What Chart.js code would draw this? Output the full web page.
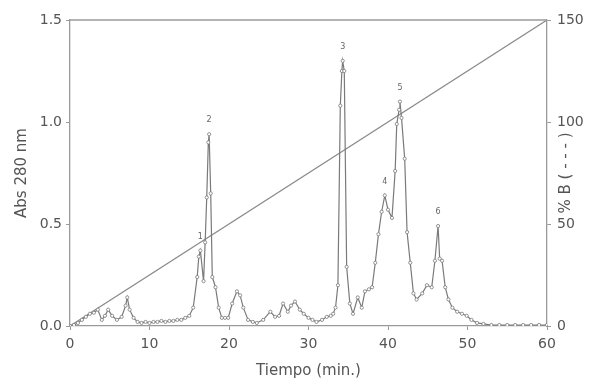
<!DOCTYPE html>
<html>
<head>
<meta charset="utf-8">
<script src="https://cdn.jsdelivr.net/npm/chart.js@4.4.0/dist/chart.umd.min.js"></script>
<style>
  html, body { margin: 0; padding: 0; background: #fff; }
  #wrap { width: 590px; height: 383px; }
</style>
</head>
<body>
<div id="wrap"><canvas id="grafico"></canvas></div>
<script>
const tiempo = [
  0, 0.5, 1, 1.5, 2, 2.5, 3, 3.5, 4, 4.4, 4.8, 5.3, 5.9, 6.5, 7, 7.2, 7.5, 8, 8.5, 9,
  9.5, 10, 10.5, 11, 11.5, 12, 12.5, 13, 13.5, 14, 14.5, 15, 15.5, 16, 16.2, 16.4, 16.8, 17, 17.2, 17.4,
  17.5, 17.7, 17.9, 18.3, 18.7, 19.1, 19.5, 19.9, 20.4, 21, 21.4, 21.8, 22.4, 23, 23.5, 24.3, 25.2, 25.8, 26.3, 26.8,
  27.4, 27.8, 28.3, 28.9, 29.4, 30, 30.5, 31, 31.7, 32.3, 32.8, 33.1, 33.4, 33.7, 34, 34.2, 34.3, 34.5, 34.8, 35.2,
  35.6, 36.2, 36.7, 37.1, 37.6, 38, 38.4, 38.8, 39.2, 39.6, 40, 40.5, 40.9, 41.1, 41.4, 41.5, 41.7, 42.1, 42.4, 42.8,
  43.2, 43.6, 44.3, 44.9, 45.5, 45.9, 46.3, 46.5, 46.8, 47.2, 47.6, 48.1, 48.7, 49.3, 49.9, 50.5, 51.2, 52, 53, 54,
  55, 56, 57, 58, 59, 60
];
const abs280 = [
  0, 0.005, 0.015, 0.03, 0.045, 0.06, 0.065, 0.08, 0.03, 0.05, 0.08, 0.05, 0.03, 0.045, 0.1, 0.14, 0.08, 0.04, 0.02, 0.015,
  0.02, 0.015, 0.02, 0.02, 0.025, 0.02, 0.025, 0.025, 0.03, 0.03, 0.04, 0.05, 0.09, 0.24, 0.34, 0.37, 0.22, 0.41, 0.63, 0.9,
  0.94, 0.65, 0.24, 0.19, 0.09, 0.04, 0.04, 0.04, 0.11, 0.17, 0.15, 0.09, 0.03, 0.02, 0.015, 0.03, 0.07, 0.045, 0.05, 0.11,
  0.07, 0.1, 0.12, 0.08, 0.06, 0.04, 0.03, 0.02, 0.03, 0.045, 0.05, 0.06, 0.09, 0.2, 1.08, 1.25, 1.3, 1.25, 0.29, 0.11,
  0.06, 0.14, 0.09, 0.17, 0.18, 0.19, 0.31, 0.45, 0.56, 0.64, 0.57, 0.53, 0.76, 0.99, 1.06, 1.1, 1.02, 0.82, 0.46, 0.31,
  0.16, 0.13, 0.16, 0.2, 0.19, 0.32, 0.49, 0.33, 0.32, 0.19, 0.13, 0.09, 0.07, 0.06, 0.05, 0.03, 0.015, 0.01, 0.005, 0.005,
  0.005, 0.005, 0.005, 0.005, 0.005, 0.005
];

// gradiente de B (%)
const gradTiempo = [0, 60];
const gradB = [0, 150];

// numeros de picos
const picoNum = ['1', '2', '3', '4', '5', '6'];
const picoTiempo = [16.4, 17.5, 34.3, 39.6, 41.5, 46.3];
const picoAbs = [0.37, 0.94, 1.3, 0.64, 1.1, 0.49];

const ticksAbs = [0, 0.5, 1.0, 1.5];
const ticksB = [0, 50, 100, 150];

const gris = '#7a7a7a';
const ejeColor = '#9a9a9a';
const textoColor = '#555';
const fuente = "'DejaVu Sans', sans-serif";

// marco superior, numeros de picos y titulo del eje derecho
const extras = {
  id: 'extras',
  afterDraw(chart) {
    const ctx = chart.ctx;
    const a = chart.chartArea;
    const x = chart.scales.x;
    const y = chart.scales.y;
    ctx.save();
    ctx.strokeStyle = ejeColor;
    ctx.lineWidth = 1.3;
    ctx.beginPath();
    ctx.moveTo(a.left, a.top);
    ctx.lineTo(a.right, a.top);
    ctx.stroke();

    ctx.fillStyle = '#666';
    ctx.font = "8px " + fuente;
    ctx.textAlign = 'center';
    ctx.textBaseline = 'bottom';
    picoNum.forEach((n, i) => {
      ctx.fillText(n, x.getPixelForValue(picoTiempo[i]), y.getPixelForValue(picoAbs[i]) - 10);
    });

    ctx.fillStyle = textoColor;
    ctx.font = "15px " + fuente;
    ctx.textBaseline = 'middle';
    ctx.translate(566, (a.top + a.bottom) / 2);
    ctx.rotate(-Math.PI / 2);
    ctx.fillText('% B ( - - - )', 0, 0);
    ctx.restore();
  }
};

const ctx = document.getElementById('grafico').getContext('2d');
new Chart(ctx, {
  type: 'line',
  data: {
    datasets: [{
      label: 'Abs 280 nm',
      data: tiempo.map((t, i) => ({ x: t, y: abs280[i] })),
      borderColor: gris,
      borderWidth: 1.2,
      pointRadius: 1.6,
      pointBorderWidth: 0.8,
      pointBorderColor: gris,
      pointBackgroundColor: '#fff',
      tension: 0,
      yAxisID: 'y'
    }, {
      label: '% B',
      data: gradTiempo.map((t, i) => ({ x: t, y: gradB[i] })),
      borderColor: '#8a8a8a',
      borderWidth: 1.2,
      pointRadius: 0,
      yAxisID: 'y2'
    }]
  },
  options: {
    responsive: true,
    maintainAspectRatio: false,
    animation: false,
    layout: { padding: { top: 20, left: 0, right: 0, bottom: 0 } },
    plugins: {
      legend: { display: false },
      tooltip: { enabled: false }
    },
    scales: {
      x: {
        type: 'linear',
        min: 0,
        max: 60,
        afterFit: s => { s.height = 57; },
        ticks: { stepSize: 10, color: textoColor, font: { family: fuente, size: 14 }, padding: 6 },
        grid: { drawOnChartArea: false, drawTicks: true, tickLength: 4, color: ejeColor, tickColor: ejeColor },
        border: { color: ejeColor, width: 1.3 },
        title: { display: true, text: 'Tiempo (min.)', color: textoColor, font: { family: fuente, size: 15 }, padding: { top: 0, bottom: 3 } }
      },
      y: {
        position: 'left',
        min: 0,
        max: 1.5,
        afterFit: s => { s.width = 70; },
        afterBuildTicks: s => { s.ticks = ticksAbs.map(v => ({ value: v })); },
        ticks: { color: textoColor, font: { family: fuente, size: 14 }, padding: 4, callback: v => v.toFixed(1) },
        grid: { drawOnChartArea: false, drawTicks: true, tickLength: 4, color: ejeColor, tickColor: ejeColor },
        border: { color: ejeColor, width: 1.3 },
        title: { display: true, text: 'Abs 280 nm', color: textoColor, font: { family: fuente, size: 15 }, padding: { top: 13, bottom: 0 } }
      },
      y2: {
        position: 'right',
        min: 0,
        max: 150,
        afterFit: s => { s.width = 43; },
        afterBuildTicks: s => { s.ticks = ticksB.map(v => ({ value: v })); },
        ticks: { color: textoColor, font: { family: fuente, size: 14 }, padding: 6 },
        grid: { drawOnChartArea: false, drawTicks: true, tickLength: 4, color: ejeColor, tickColor: ejeColor },
        border: { color: ejeColor, width: 1.3 }
      }
    }
  },
  plugins: [extras]
});
</script>
</body>
</html>
